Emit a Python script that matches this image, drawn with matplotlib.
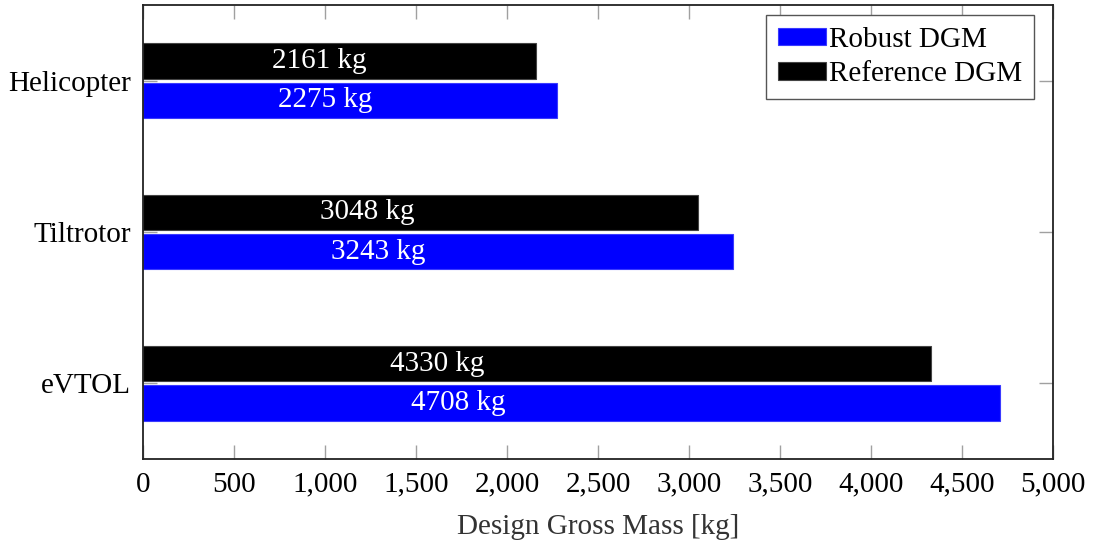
import matplotlib
matplotlib.use("Agg")
import matplotlib.pyplot as plt
import numpy as np

plt.rcParams['font.family'] = ['Liberation Serif', 'DejaVu Serif']

categories = ["eVTOL", "Tiltrotor", "Helicopter"]
robust_dgm = [4708, 3243, 2275]
reference_dgm = [4330, 3048, 2161]
xticks = [0, 500, 1000, 1500, 2000, 2500, 3000, 3500, 4000, 4500, 5000]

FS = 21

fig = plt.figure(figsize=(10.95, 5.42), dpi=100)
ax = fig.add_axes([143 / 1095, 1 - 459 / 542, 910 / 1095, 454 / 542])

y = np.arange(len(categories))
h = 0.235
off = 0.13
ax.barh(y - off, robust_dgm, height=h, color='#0000ff', edgecolor='#3a3aff',
        linewidth=0.8, label='Robust DGM', zorder=2)
ax.barh(y + off, reference_dgm, height=h, color='black', edgecolor='#444444',
        linewidth=0.8, label='Reference DGM', zorder=2)

# value labels inside each bar
for yi, v in zip(y, robust_dgm):
    ax.text(320 + 0.3 * v, yi - off, f"{v} kg", color='white', fontsize=FS,
            ha='center', va='center', zorder=3)
for yi, v in zip(y, reference_dgm):
    ax.text(320 + 0.3 * v, yi + off, f"{v} kg", color='white', fontsize=FS,
            ha='center', va='center', zorder=3)

ax.set_xlim(0, 5000)
ax.set_ylim(-0.5, 2.5)
ax.set_xticks(xticks)
ax.set_xticklabels([f"{t:,}" for t in xticks], fontsize=FS)
ax.set_yticks(y)
ax.set_yticklabels(categories, fontsize=FS, va='center_baseline')
ax.tick_params(direction='in', length=10, width=1, color='#a0a0a0',
               top=True, right=True, pad=9)
for s in ax.spines.values():
    s.set_linewidth(1.3)
    s.set_color('#222222')
ax.set_xlabel("Design Gross Mass [kg]", fontsize=FS, color='#333333', labelpad=12)

leg = ax.legend(loc='upper right', bbox_to_anchor=(0.979, 0.978),
                fontsize=FS, fancybox=False, edgecolor='#555555',
                framealpha=1, handlelength=1.65, handleheight=0.55,
                handletextpad=0.1, borderpad=0.4, labelspacing=0.3,
                borderaxespad=0)
leg.get_frame().set_linewidth(1.0)

fig.savefig("out.png", dpi=100)
